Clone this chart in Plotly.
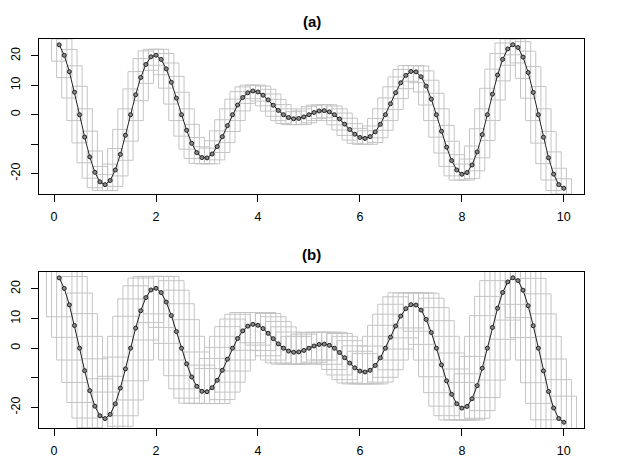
import plotly.graph_objects as go

# ---- data ----
x_vals = [0.1, 0.2, 0.3, 0.4, 0.5, 0.6, 0.7, 0.8, 0.9, 1.0,
          1.1, 1.2, 1.3, 1.4, 1.5, 1.6, 1.7, 1.8, 1.9, 2.0,
          2.1, 2.2, 2.3, 2.4, 2.5, 2.6, 2.7, 2.8, 2.9, 3.0,
          3.1, 3.2, 3.3, 3.4, 3.5, 3.6, 3.7, 3.8, 3.9, 4.0,
          4.1, 4.2, 4.3, 4.4, 4.5, 4.6, 4.7, 4.8, 4.9, 5.0,
          5.1, 5.2, 5.3, 5.4, 5.5, 5.6, 5.7, 5.8, 5.9, 6.0,
          6.1, 6.2, 6.3, 6.4, 6.5, 6.6, 6.7, 6.8, 6.9, 7.0,
          7.1, 7.2, 7.3, 7.4, 7.5, 7.6, 7.7, 7.8, 7.9, 8.0,
          8.1, 8.2, 8.3, 8.4, 8.5, 8.6, 8.7, 8.8, 8.9, 9.0,
          9.1, 9.2, 9.3, 9.4, 9.5, 9.6, 9.7, 9.8, 9.9, 10.0]
y_vals = [23.76, 20.19, 14.63, 7.66, 0.0, -7.59, -14.34, -19.59, -22.83, -23.78,
          -22.37, -18.81, -13.49, -6.99, 0.0, 6.77, 12.65, 17.08, 19.67, 20.23,
          18.79, 15.58, 11.02, 5.63, 0.0, -5.29, -9.72, -12.89, -14.57, -14.69,
          -13.36, -10.84, -7.48, -3.72, 0.0, 3.29, 5.84, 7.45, 8.05, 7.73,
          6.63, 5.03, 3.21, 1.45, 0.0, -0.97, -1.38, -1.27, -0.75, 0.0,
          0.75, 1.27, 1.38, 0.97, 0.0, -1.45, -3.21, -5.03, -6.63, -7.73,
          -8.05, -7.45, -5.84, -3.29, 0.0, 3.72, 7.48, 10.84, 13.36, 14.69,
          14.57, 12.89, 9.72, 5.29, 0.0, -5.63, -11.02, -15.58, -18.79, -20.23,
          -19.67, -17.08, -12.65, -6.77, 0.0, 6.99, 13.49, 18.81, 22.37, 23.78,
          22.83, 19.59, 14.34, 7.59, 0.0, -7.66, -14.63, -20.19, -23.76, -25.0]
x_ticks = [0, 2, 4, 6, 8, 10]
y_ticks = [-20, -10, 0, 10, 20]
y_ticktext = ["-20", "", "0", "10", "20"]
panel_titles = ["(a)", "(b)"]
# box half-width in x and tolerance in y for each panel
box_dx = [0.15, 0.25]
box_dy = [2.0, 4.0]

# ---- layout geometry (pixels) ----
W, H = 623, 467
left_px, right_px = 39, 584
panels_px = [(39, 194), (272, 428)]  # (top, bottom)


def r_range(v):
    lo, hi = min(v), max(v)
    s = hi - lo
    return [lo - 0.04 * s, hi + 0.04 * s]


def boxes(xs, ys, dx, dy):
    bx, by = [], []
    for xi in xs:
        win = [ys[j] for j, xj in enumerate(xs) if abs(xj - xi) <= dx + 1e-9]
        lo, hi = min(win) - dy, max(win) + dy
        bx += [xi - dx, xi + dx, xi + dx, xi - dx, xi - dx, None]
        by += [lo, lo, hi, hi, lo, None]
    return bx, by


fig = go.Figure()
font = "Liberation Sans, Arial, Helvetica, sans-serif"

for p in range(2):
    xa = "x" if p == 0 else "x2"
    ya = "y" if p == 0 else "y2"
    bx, by = boxes(x_vals, y_vals, box_dx[p], box_dy[p])
    fig.add_trace(go.Scatter(x=bx, y=by, mode="lines", xaxis=xa, yaxis=ya,
                             line=dict(color="#c4c4c4", width=1),
                             hoverinfo="skip", showlegend=False))
    fig.add_trace(go.Scatter(x=x_vals, y=y_vals, mode="lines+markers",
                             xaxis=xa, yaxis=ya,
                             line=dict(color="#222222", width=1),
                             marker=dict(size=4, color="#8a8a8a",
                                         line=dict(color="#222222", width=1)),
                             showlegend=False))

layout = dict(width=W, height=H,
              margin=dict(l=left_px, r=W - right_px, t=0, b=0, autoexpand=False),
              plot_bgcolor="white", paper_bgcolor="white",
              font=dict(family=font, size=12, color="black"))

annotations = []
for p in range(2):
    top, bot = panels_px[p]
    ydom = [1 - bot / H, 1 - top / H]
    sfx = "" if p == 0 else "2"
    layout["xaxis" + sfx] = dict(
        domain=[0, 1], anchor="y" + sfx, range=r_range(x_vals),
        tickmode="array", tickvals=x_ticks, ticks="outside", ticklen=7,
        tickwidth=1, tickcolor="black", showline=True, linecolor="black",
        linewidth=1, mirror=True, showgrid=False, zeroline=False,
        automargin=False,
        tickfont=dict(size=12.5, family=font), ticklabelstandoff=4)
    layout["yaxis" + sfx] = dict(
        domain=ydom, anchor="x" + sfx, range=r_range(y_vals),
        tickmode="array", tickvals=y_ticks, ticktext=y_ticktext,
        ticks="outside", ticklen=7, tickwidth=1, tickcolor="black",
        showline=True, linecolor="black", linewidth=1, mirror=True,
        showgrid=False, zeroline=False, tickangle=-90, automargin=False,
        tickfont=dict(size=12.5, family=font), ticklabelstandoff=6)
    annotations.append(dict(text="<b>" + panel_titles[p] + "</b>",
                            x=0.5, xref="paper",
                            y=1 - (top - 18) / H, yref="paper",
                            xanchor="center", yanchor="middle",
                            showarrow=False, font=dict(size=15, family=font)))
layout["annotations"] = annotations
fig.update_layout(**layout)
fig.write_html("out.html",
               config={"displayModeBar": False, "staticPlot": True},
               post_script="document.body.style.margin='0';"
                           "document.body.style.padding='0';")
